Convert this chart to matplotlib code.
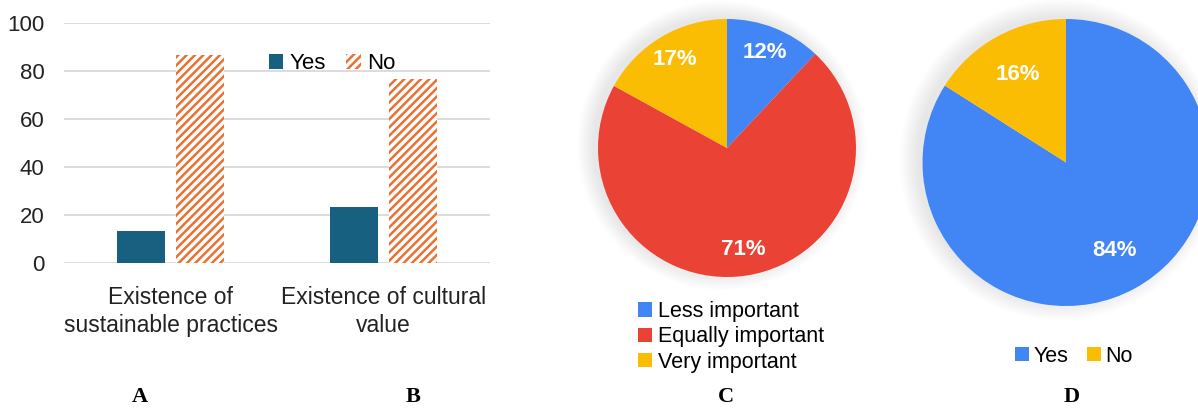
import matplotlib.pyplot as plt
import matplotlib.patches as mpatches
import numpy as np

# A/B: grouped bars
bar_categories = ["Existence of\nsustainable practices", "Existence of cultural\nvalue"]
bar_yes = [13.4, 23.6]
bar_no = [86.6, 76.4]

# C: importance pie
c_labels = ["Less important", "Equally important", "Very important"]
c_values = [12, 71, 17]

# D: yes/no pie
d_labels = ["Yes", "No"]
d_values = [84, 16]

W, H = 1198, 408
plt.rcParams["font.family"] = ["Liberation Sans", "DejaVu Sans"]
plt.rcParams["hatch.linewidth"] = 1.8
plt.rcParams["hatch.color"] = "#E97132"

fig = plt.figure(figsize=(W / 100, H / 100), dpi=100)


def px_axes(x0, y0, x1, y1):
    # pixel box (top-left origin) -> figure axes
    return fig.add_axes([x0 / W, 1 - y1 / H, (x1 - x0) / W, (y1 - y0) / H])


def soft_shadow(ax):
    # faint glow behind the pie, like the exported chart
    for r in np.linspace(1.0, 1.12, 12):
        ax.add_patch(mpatches.Circle((-0.04, 0.02), r, color="black", alpha=0.006,
                                     lw=0, zorder=0, clip_on=False))


# ---- bar chart ----
ax = px_axes(64, 22.7, 490, 263.3)
x = np.arange(len(bar_categories))
bw = 0.225
off = 0.14
ax.bar(x - off, bar_yes, bw, color="#17607F", label="Yes", zorder=3)
ax.bar(x + off, bar_no, bw, color="white", edgecolor="#E97132", hatch="////",
       linewidth=0, label="No", zorder=3)
ax.set_xlim(-0.5, 1.5)
ax.set_ylim(0, 100)
ax.set_yticks([0, 20, 40, 60, 80, 100])
ax.yaxis.grid(True, color="#D9D9D9", linewidth=1.3, zorder=0)
ax.set_xticks(x)
ax.set_xticklabels(bar_categories, fontsize=16.5, color="#222222", linespacing=1.3)
ax.tick_params(axis="y", length=0, labelsize=16, colors="#222222", pad=14)
ax.tick_params(axis="x", length=0, colors="#222222", pad=16)
for s in ax.spines.values():
    s.set_visible(False)
ax.legend(loc="center", bbox_to_anchor=(0.63, 0.83), ncol=2, frameon=False,
          fontsize=16, handlelength=0.65, handleheight=0.65, handletextpad=0.3,
          columnspacing=0.9)

# ---- pie C ----
colors_c = ["#4285F4", "#EA4335", "#FBBC04"]
axc = px_axes(727 - 129, 148 - 129, 727 + 129, 148 + 129)
soft_shadow(axc)
wedges_c, _, _ = axc.pie(c_values, colors=colors_c, startangle=90, counterclock=False,
                         autopct=lambda p: f"{p:.0f}%", pctdistance=0.8,
                         textprops=dict(color="white", fontsize=16, fontweight="bold"))
axc.set_xlim(-1, 1)
axc.set_ylim(-1, 1)
axc.axis("off")
fig.legend(wedges_c, c_labels, loc="upper left", bbox_to_anchor=(638 / W, 1 - 301 / H),
           frameon=False, fontsize=15.5, handlelength=0.65, handleheight=0.65,
           handletextpad=0.3, labelspacing=0.2, borderpad=0, borderaxespad=0)

# ---- pie D ----
colors_d = ["#4285F4", "#FBBC04"]
rd = 143.5
axd = px_axes(1066 - rd, 162.5 - rd, 1066 + rd, 162.5 + rd)
soft_shadow(axd)
wedges_d, _, _ = axd.pie(d_values, colors=colors_d, startangle=90, counterclock=False,
                         autopct=lambda p: f"{p:.0f}%", pctdistance=0.7,
                         textprops=dict(color="white", fontsize=16, fontweight="bold"))
axd.set_xlim(-1, 1)
axd.set_ylim(-1, 1)
axd.axis("off")
fig.legend(wedges_d, d_labels, loc="center", bbox_to_anchor=(1074 / W, 1 - 356 / H),
           ncol=2, frameon=False, fontsize=15.5, handlelength=0.65, handleheight=0.65,
           handletextpad=0.2, columnspacing=0.9, borderpad=0)

# panel letters
for letter, xp in zip(["A", "B", "C", "D"], [140, 413, 726, 1072]):
    fig.text(xp / W, 1 - 387 / H, letter, ha="center", va="top", fontsize=16,
             fontweight="bold", family="Liberation Serif")

fig.savefig("out.png", dpi=100)
